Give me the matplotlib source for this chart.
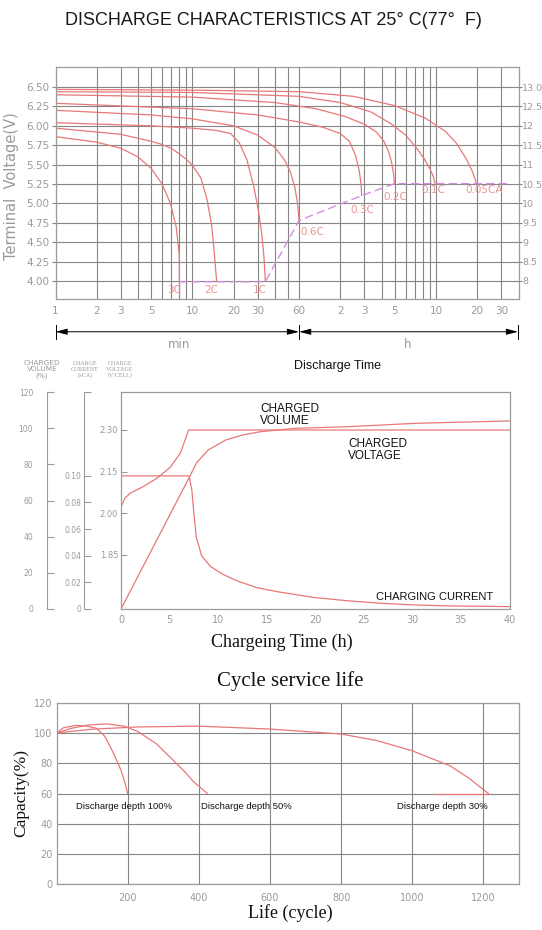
import matplotlib
matplotlib.use('Agg')
import matplotlib.pyplot as plt
from matplotlib.transforms import blended_transform_factory

W, H = 542, 930
fig = plt.figure(figsize=(W / 100, H / 100), dpi=100)
fig.patch.set_facecolor('white')

SANS = ['Liberation Sans', 'DejaVu Sans']
SERIF = ['Liberation Serif', 'DejaVu Serif']
CAD = ['DejaVu Sans']
GRID = '#858585'
FRAME = '#9c9c9c'
TICKC = '#9a9a9a'
RED = '#e87878'
DASH = '#d38ce0'
LBLC = '#e89494'

# ------------------------------------------------------------------ data
# discharge curves: time in minutes, terminal voltage (V)
t_3C = [1, 2, 3, 4, 5, 6, 6.9, 7.6, 8.0, 8.05]
v_3C = [5.86, 5.79, 5.71, 5.60, 5.45, 5.25, 5.00, 4.70, 4.35, 3.80]
t_2C = [1, 2, 3, 4, 5, 6, 7, 8, 9, 10, 11.5, 12.7, 13.8, 14.4, 15]
v_2C = [5.97, 5.92, 5.89, 5.84, 5.80, 5.76, 5.71, 5.64, 5.57, 5.49, 5.33, 5.07, 4.72, 4.38, 4.00]
t_1C = [1, 5, 10, 15, 19, 22, 25, 28, 30, 32, 33.3, 34]
v_1C = [6.04, 6.00, 5.97, 5.94, 5.90, 5.78, 5.56, 5.22, 4.95, 4.62, 4.30, 4.00]
t_06C = [1, 5, 10, 20, 30, 40, 47, 52, 56, 58.5, 60]
v_06C = [6.20, 6.14, 6.09, 6.00, 5.88, 5.72, 5.56, 5.40, 5.20, 5.00, 4.78]
t_03C = [1, 10, 30, 60, 90, 120, 140, 155, 165, 170, 172]
v_03C = [6.29, 6.22, 6.14, 6.05, 5.98, 5.90, 5.80, 5.62, 5.42, 5.25, 5.10]
t_02C = [1, 10, 40, 80, 130, 180, 220, 250, 270, 285, 295, 298]
v_02C = [6.40, 6.37, 6.30, 6.22, 6.12, 6.02, 5.92, 5.80, 5.67, 5.52, 5.36, 5.255]
t_01C = [1, 10, 60, 120, 200, 280, 360, 430, 490, 540, 575, 590]
v_01C = [6.44, 6.43, 6.38, 6.30, 6.18, 6.03, 5.88, 5.72, 5.58, 5.45, 5.34, 5.255]
t_005C = [1, 10, 60, 150, 300, 500, 700, 850, 1000, 1100, 1160, 1180]
v_005C = [6.47, 6.46, 6.44, 6.38, 6.26, 6.10, 5.93, 5.77, 5.57, 5.42, 5.31, 5.255]
cut_t = [8.0, 34, 60, 172, 298, 2000]
cut_v = [3.99, 3.99, 4.78, 5.10, 5.255, 5.255]

curve_labels = ['3C', '2C', '1C', '0.6C', '0.3C', '0.2C', '0.1C', '0.05CA']
label_t = [7.3, 13.8, 31, 61, 141, 248, 472, 986]
label_v = [3.88, 3.88, 3.88, 4.63, 4.91, 5.08, 5.17, 5.17]

volt_ticks = [4.00, 4.25, 4.50, 4.75, 5.00, 5.25, 5.50, 5.75, 6.00, 6.25, 6.50]
volt12_ticks = [8, 8.5, 9, 9.5, 10, 10.5, 11, 11.5, 12, 12.5, 13]
volt12_labels = ['8', '8.5', '9', '9.5', '10', '10.5', '11', '11.5', '12', '12.5', '13.0']
time_grid = [1, 2, 3, 4, 5, 6, 7, 8, 9, 10, 20, 30, 40, 50, 60,
             120, 180, 240, 300, 360, 420, 480, 540, 600, 1200, 1800]
time_labels = ['1', '2', '3', '', '5', '', '', '', '', '10', '20', '30', '', '', '60',
               '2', '3', '', '5', '', '', '', '', '10', '20', '30']

# charging curves: time in hours
chg_t_volt = [0, 0.41, 0.93, 2.3, 3.7, 5.05, 6.1, 6.6, 6.95, 40]
chg_volt = [2.023, 2.054, 2.072, 2.096, 2.126, 2.165, 2.216, 2.264, 2.30, 2.30]
chg_t_cur = [0, 7.0, 7.3, 7.5, 7.75, 8.3, 9.2, 10.5, 12.0, 14.0, 16.1, 19.7, 23.3, 26.8,
             30.4, 34.0, 40.0]
chg_cur = [0.100, 0.100, 0.089, 0.072, 0.054, 0.040, 0.032, 0.026, 0.021, 0.016, 0.013,
           0.0088, 0.0062, 0.0043, 0.003, 0.0023, 0.0018]
chg_t_vol = [0, 7.05, 7.8, 9.0, 10.8, 12.5, 14.3, 17.9, 23.3, 30.4, 40.0]
chg_vol = [0, 73, 81, 88, 93.5, 96.2, 98, 99.9, 100.8, 102.7, 104]
vol_ticks = [0, 20, 40, 60, 80, 100, 120]
cur_ticks = [0, 0.02, 0.04, 0.06, 0.08, 0.10]
cur_labels = ['0', '0.02', '0.04', '0.06', '0.08', '0.10']
cv_ticks = [1.85, 2.00, 2.15, 2.30]
chg_time_ticks = [0, 5, 10, 15, 20, 25, 30, 35, 40]

# cycle life
cyc100_x = [0, 20, 54, 85, 112, 135, 151, 166, 181, 192, 200]
cyc100_y = [100, 103.5, 105, 104.6, 103.1, 98, 91, 83.5, 75.5, 67.5, 60]
cyc50_x = [0, 40, 90, 141, 190, 229, 280, 327, 360, 385, 405, 424]
cyc50_y = [100, 103, 105.3, 106, 104.5, 100.9, 93, 82.2, 74.5, 67.8, 63.8, 60]
cyc30_x = [0, 100, 229, 400, 600, 800, 900, 1000, 1107, 1160, 1214]
cyc30_y = [100, 102.5, 104, 104.5, 102.6, 99.3, 95, 88.2, 78.2, 70, 60]
cyc30_tail_x = [1068, 1214]
cyc30_tail_y = [60, 60]
cyc_xticks = [200, 400, 600, 800, 1000, 1200]
cyc_yticks = [0, 20, 40, 60, 80, 100, 120]
depth_labels = ['Discharge depth 100%', 'Discharge depth 50%', 'Discharge depth 30%']
depth_label_x = [54, 407, 956]
depth_label_y = [51.3, 51.3, 51.3]


def px_axes(l, t, r, b):
    return fig.add_axes([l / W, 1 - b / H, (r - l) / W, (b - t) / H])


def ftext(x, y, s, **kw):
    fig.text(x / W, 1 - y / H, s, **kw)


# ------------------------------------------------------------------ top chart
ftext(273, 20.7, 'DISCHARGE CHARACTERISTICS AT 25° C(77°  F)', family=SANS,
      fontsize=13, color='#1a1a1a', ha='center', va='center')

ax1 = px_axes(55.5, 66.7, 518.5, 299)
ax1.set_xscale('log')
ax1.set_xlim(1, 2400)
ax1.set_ylim(3.768, 6.762)
ax1.set_xticks(time_grid)
ax1.set_xticklabels(time_labels)
ax1.xaxis.set_minor_locator(matplotlib.ticker.NullLocator())
ax1.set_yticks(volt_ticks)
ax1.set_yticklabels(['%.2f' % v for v in volt_ticks])
ax1.grid(True, color=GRID, lw=0.8)
ax1.set_axisbelow(True)
ax1.tick_params(axis='x', length=0, pad=5, labelsize=7.5, labelcolor=TICKC)
ax1.tick_params(axis='y', length=3, color=GRID, pad=1.5, labelsize=7.5, labelcolor=TICKC)
for s in ax1.spines.values():
    s.set_color(FRAME)
    s.set_linewidth(0.9)
for lbl in ax1.get_xticklabels() + ax1.get_yticklabels():
    lbl.set_family(CAD)

series = [(t_3C, v_3C), (t_2C, v_2C), (t_1C, v_1C), (t_06C, v_06C),
          (t_03C, v_03C), (t_02C, v_02C), (t_01C, v_01C), (t_005C, v_005C)]
for tt, vv in series:
    ax1.plot(tt, vv, color=RED, lw=0.9)
ax1.plot(cut_t, cut_v, color=DASH, lw=1.0, dashes=(6, 3))
for i, name in enumerate(curve_labels):
    ax1.text(label_t[i], label_v[i], name, color=LBLC, fontsize=7.5, family=CAD,
             ha='center' if i < 3 else 'left', va='center')

ax1r = ax1.twinx()
ax1r.set_ylim(3.768 * 2, 6.762 * 2)
ax1r.set_yticks(volt12_ticks)
ax1r.set_yticklabels(volt12_labels)
ax1r.tick_params(axis='y', length=2, color=GRID, pad=0.8, labelsize=6.8, labelcolor=TICKC)
for s in ax1r.spines.values():
    s.set_visible(False)
for lbl in ax1r.get_yticklabels():
    lbl.set_family(CAD)

ftext(12, 186.5, 'Terminal  Voltage(V)', family=CAD, fontsize=10.5, color=TICKC,
      ha='center', va='center', rotation=90)

# min / h arrows under the axis
tr = blended_transform_factory(ax1.transData, ax1.transAxes)
yarr = -0.141
arrow_kw = dict(arrowstyle='<|-|>,head_length=0.7,head_width=0.18', color='black',
                lw=0.7, shrinkA=0, shrinkB=0)
ax1.annotate('', xy=(time_grid[0], yarr), xytext=(time_grid[14], yarr), xycoords=tr,
             textcoords=tr, arrowprops=arrow_kw, annotation_clip=False)
ax1.annotate('', xy=(time_grid[14], yarr), xytext=(2380, yarr), xycoords=tr,
             textcoords=tr, arrowprops=arrow_kw, annotation_clip=False)
for xb in [time_grid[0], time_grid[14], 2380]:
    ax1.plot([xb, xb], [yarr - 0.03, yarr + 0.03], transform=tr, color='black',
             lw=0.7, clip_on=False)
ax1.text(8, -0.198, 'min', transform=tr, family=CAD, fontsize=8.5, color=TICKC,
         ha='center', va='center')
ax1.text(370, -0.198, 'h', transform=tr, family=CAD, fontsize=8.5, color=TICKC,
         ha='center', va='center')

ftext(338, 366, 'Discharge Time', family=SANS, fontsize=9, color='#111111',
      ha='center', va='center')

# ------------------------------------------------------------------ charging chart
axv = px_axes(121, 392, 509.5, 609)
axv.set_xlim(0, 40)
axv.set_ylim(1.6546, 2.437)
axv.set_xticks(chg_time_ticks)
axv.set_yticks(cv_ticks)
axv.set_yticklabels(['%.2f' % v for v in cv_ticks])
axv.tick_params(axis='x', length=0, pad=4, labelsize=7, labelcolor=TICKC)
axv.tick_params(axis='y', direction='in', length=4, color=FRAME, right=True,
                pad=2, labelsize=6, labelcolor=TICKC)
for s in axv.spines.values():
    s.set_color(FRAME)
    s.set_linewidth(0.9)
for lbl in axv.get_xticklabels() + axv.get_yticklabels():
    lbl.set_family(CAD)
axv.plot(chg_t_volt, chg_volt, color=RED, lw=0.9)

axvol = axv.twinx()
axvol.set_ylim(0, 120)
axvol.yaxis.set_ticks_position('left')
axvol.spines['left'].set_position(('axes', (47 - 121) / 388.5))
for k in ['right', 'top', 'bottom']:
    axvol.spines[k].set_visible(False)
axvol.spines['left'].set_visible(True)
axvol.spines['left'].set_color(FRAME)
axvol.set_yticks(vol_ticks)
axvol.tick_params(axis='y', direction='in', length=5, color=FRAME, pad=10,
                  labelsize=5.5, labelcolor=TICKC)
axvol.plot(chg_t_vol, chg_vol, color=RED, lw=0.9)

axcur = axv.twinx()
axcur.set_ylim(0, 0.163)
axcur.yaxis.set_ticks_position('left')
axcur.spines['left'].set_position(('axes', (84 - 121) / 388.5))
for k in ['right', 'top', 'bottom']:
    axcur.spines[k].set_visible(False)
axcur.spines['left'].set_visible(True)
axcur.spines['left'].set_color(FRAME)
axcur.set_yticks(cur_ticks + [0.163])
axcur.set_yticklabels(cur_labels + [''])
axcur.tick_params(axis='y', direction='in', length=5, color=FRAME, pad=2,
                  labelsize=5.5, labelcolor=TICKC)
axcur.plot(chg_t_cur, chg_cur, color=RED, lw=0.9)
for a in (axvol, axcur):
    for lbl in a.get_yticklabels():
        lbl.set_family(CAD)

axv.text(14.3, 2.354, 'CHARGED\nVOLUME', family=SANS, fontsize=8.5, color='#111111',
         ha='left', va='center', linespacing=1.05)
axv.text(23.4, 2.227, 'CHARGED\nVOLTAGE', family=SANS, fontsize=8.5, color='#111111',
         ha='left', va='center', linespacing=1.05)
axv.text(26.3, 1.699, 'CHARGING CURRENT', family=SANS, fontsize=8, color='#111111',
         ha='left', va='center')

ftext(42, 369.5, 'CHARGED\nVOLUME\n(%)', family=CAD, fontsize=5.3, color=TICKC,
      ha='center', va='center', linespacing=1.0)
ftext(85, 369.5, 'CHARGE\nCURRENT\n(xCA)', family=SERIF, fontsize=4.3, color=TICKC,
      ha='center', va='center', linespacing=1.15)
ftext(120, 369.5, 'CHARGE\nVOLTAGE\n(V/CELL)', family=SERIF, fontsize=4.3, color=TICKC,
      ha='center', va='center', linespacing=1.15)

ftext(282, 642.3, 'Chargeing Time (h)', family=SERIF, fontsize=13, color='#111111',
      ha='center', va='center')

# ------------------------------------------------------------------ cycle life
ftext(290, 680.7, 'Cycle service life', family=SERIF, fontsize=15, color='#111111',
      ha='center', va='center')
axc = px_axes(56.5, 702.7, 519, 884.3)
axc.set_xlim(0, 1300)
axc.set_ylim(0, 120)
axc.set_xticks(cyc_xticks)
axc.set_yticks(cyc_yticks)
axc.grid(True, color=GRID, lw=0.8)
axc.set_axisbelow(True)
axc.tick_params(length=0, labelsize=7, labelcolor=TICKC)
axc.tick_params(axis='x', pad=6.5)
axc.tick_params(axis='y', pad=3)
for s in axc.spines.values():
    s.set_color(FRAME)
    s.set_linewidth(0.9)
for lbl in axc.get_xticklabels() + axc.get_yticklabels():
    lbl.set_family(CAD)
axc.plot(cyc100_x, cyc100_y, color=RED, lw=0.9)
axc.plot(cyc50_x, cyc50_y, color=RED, lw=0.9)
axc.plot(cyc30_x, cyc30_y, color=RED, lw=0.9)
axc.plot(cyc30_tail_x, cyc30_tail_y, color=RED, lw=0.9)
for i, s in enumerate(depth_labels):
    axc.text(depth_label_x[i], depth_label_y[i], s, family=SANS, fontsize=6.8,
             color='#111111', ha='left', va='center')
ftext(21.5, 793.3, 'Capacity(%)', family=SERIF, fontsize=12.5, color='#111111',
      ha='center', va='center', rotation=90)
ftext(290, 913.3, 'Life (cycle)', family=SERIF, fontsize=13, color='#111111',
      ha='center', va='center')

fig.savefig('out.png', dpi=100, facecolor='white')
